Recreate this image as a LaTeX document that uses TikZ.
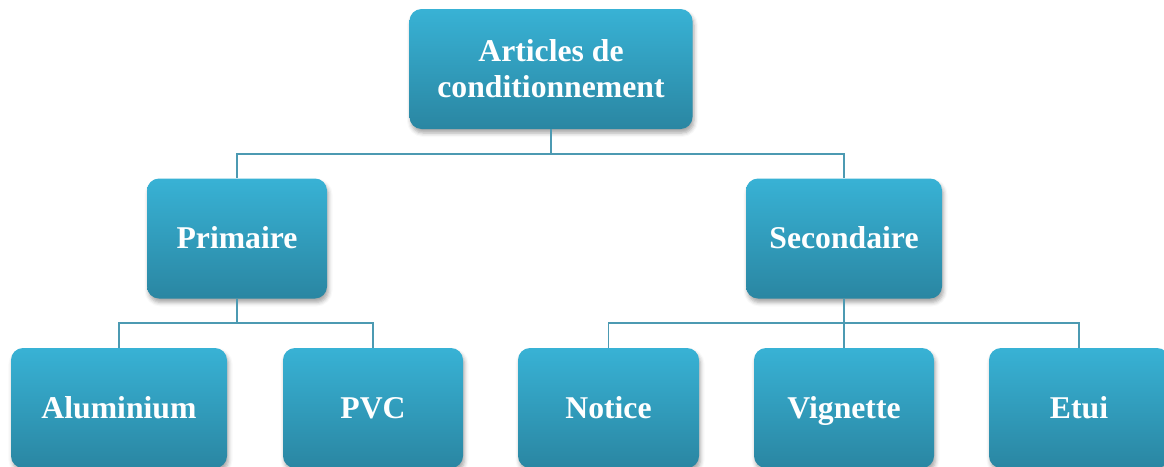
\documentclass[tikz,border=0pt]{standalone}
\usepackage{fontspec}
\setmainfont{Liberation Serif}
\usetikzlibrary{shadows.blur}
\definecolor{boxtop}{RGB}{56,178,213}
\definecolor{boxbot}{RGB}{42,134,162}
\definecolor{linec}{RGB}{76,154,178}
\tikzset{
  box/.style={rectangle, rounded corners=12pt, top color=boxtop, bottom color=boxbot,
    draw=none, text=white, font=\fontsize{31.7}{36}\selectfont\bfseries, align=center,
    minimum height=120pt, inner sep=0pt,
    blur shadow={shadow xshift=1.5pt, shadow yshift=-4pt, shadow blur radius=4pt, shadow opacity=35}},
  onebox/.style={box, text height=24pt, text depth=4pt},
  conn/.style={draw=linec, line width=1.6pt}
}
\begin{document}
\begin{tikzpicture}[x=1pt,y=-1pt]
\useasboundingbox (0,0) rectangle (1164,466);
\clip (0,0) rectangle (1164,466);
\node[box, minimum width=283pt] (top) at (551,69) {Articles de\\conditionnement};
\node[onebox, minimum width=180pt] (prim) at (237,238.5) {Primaire};
\node[onebox, minimum width=196pt] (sec) at (844,238.5) {Secondaire};
\node[onebox, minimum width=216pt] (alu) at (119,408) {Aluminium};
\node[onebox, minimum width=180pt] (pvc) at (373,408) {PVC};
\node[onebox, minimum width=181pt] (not) at (608.5,408) {Notice};
\node[onebox, minimum width=180pt] (vig) at (844,408) {Vignette};
\node[onebox, minimum width=180pt] (etu) at (1079,408) {Etui};
\draw[conn] (top.south) -- ++(0,24.5) -| (prim.north);
\draw[conn] (top.south) -- ++(0,24.5) -| (sec.north);
\draw[conn] (prim.south) -- ++(0,24.5) -| (alu.north);
\draw[conn] (prim.south) -- ++(0,24.5) -| (pvc.north);
\draw[conn] (sec.south) -- ++(0,24.5) -| (not.north);
\draw[conn] (sec.south) -- ++(0,24.5) -| (vig.north);
\draw[conn] (sec.south) -- ++(0,24.5) -| (etu.north);
\end{tikzpicture}
\end{document}
